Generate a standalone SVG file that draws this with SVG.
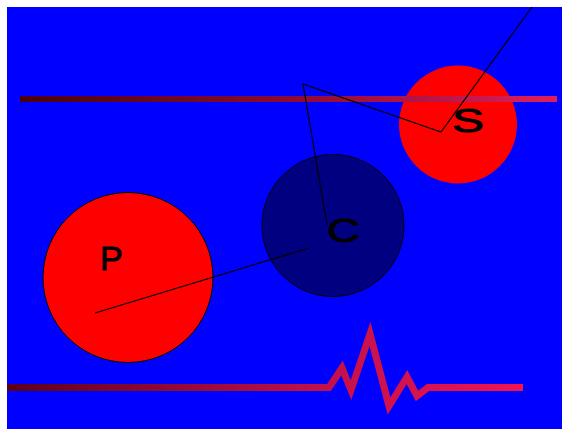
<svg xmlns="http://www.w3.org/2000/svg" width="562" height="429" viewBox="0 0 562 429">
  <defs>
    <linearGradient id="gTop" gradientUnits="userSpaceOnUse" x1="20" y1="0" x2="557" y2="0">
      <stop offset="0" stop-color="#4a000f"/>
      <stop offset="0.5" stop-color="#8a0a35"/>
      <stop offset="1" stop-color="#e01e5a"/>
    </linearGradient>
    <linearGradient id="gBot" gradientUnits="userSpaceOnUse" x1="7" y1="0" x2="523" y2="0">
      <stop offset="0" stop-color="#5a0018"/>
      <stop offset="0.6" stop-color="#c0104a"/>
      <stop offset="1" stop-color="#f01450"/>
    </linearGradient>
  </defs>
  <style>
    .lbl { font-family: "Liberation Sans", Arial, sans-serif; font-size: 34px; fill: #000; stroke: #000; stroke-width: 0.9; }
    .conn { fill: none; stroke: #000; stroke-width: 1.2; }
    .node { stroke: #000; stroke-width: 1; }
  </style>
  <rect x="0" y="0" width="562" height="429" fill="#ffffff"/>
  <rect x="7" y="7" width="555" height="422" fill="#0000ff"/>

  <g id="node-P">
    <circle class="node" cx="128" cy="277.5" r="85" fill="#ff0000"/>
    <text class="lbl" x="100" y="270">P</text>
  </g>
  <g id="node-C">
    <circle class="node" cx="333" cy="225.5" r="71" fill="#000080"/>
    <text class="lbl" x="327" y="242" textLength="33" lengthAdjust="spacingAndGlyphs">C</text>
  </g>
  <g id="node-S">
    <circle cx="458" cy="124.5" r="59" fill="#ff0000"/>
    <text class="lbl" x="452" y="132" textLength="32" lengthAdjust="spacingAndGlyphs">S</text>
  </g>

  <rect id="bar-top" x="20" y="96" width="537" height="6" fill="url(#gTop)"/>
  <polyline id="bar-bottom" fill="none" stroke="url(#gBot)" stroke-width="7" stroke-linejoin="miter" stroke-miterlimit="10"
    points="7,387.5 329,387.5 342,368 351,390 370,334 389,406 407,377 417,396 428,387.5 523,387.5"/>

  <g id="connectors">
    <line class="conn" x1="95" y1="313" x2="309" y2="248"/>
    <polyline class="conn" points="327,225 303,84 441,132 532,7"/>
  </g>
</svg>
